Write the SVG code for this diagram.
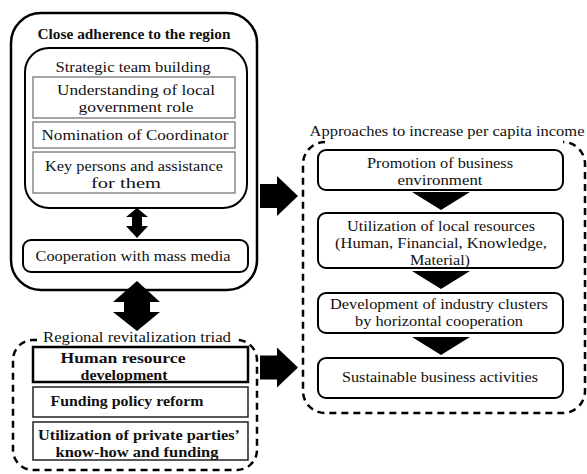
<svg xmlns="http://www.w3.org/2000/svg" width="587" height="474" viewBox="0 0 587 474" font-family="Liberation Serif, DejaVu Serif, serif">
  <style>
    text { font-size: 15px; fill: #111; text-anchor: middle; }
    .b { font-weight: bold; }
    .frame { fill: none; stroke: #000; stroke-width: 2.5; }
    .box { fill: #fff; stroke: #000; stroke-width: 2; }
    .sub { fill: #fff; stroke: #888; stroke-width: 1.5; }
    .tri { fill: #fff; stroke: #222; stroke-width: 1.5; }
    .tri-strong { fill: #fff; stroke: #000; stroke-width: 2.5; }
    .dash { fill: none; stroke: #000; stroke-width: 2.5; stroke-dasharray: 7 5; }
    .arrow { fill: #000; stroke: none; }
  </style>
  <defs>
    <polygon id="right-arrow" points="260,184 277,184 277,176 298,196 277,216 277,208 260,208"/>
    <polygon id="down-arrow" points="412,0 470,0 441,18"/>
  </defs>
  <rect width="587" height="474" fill="#fff"/>

  <!-- Left column: regional adherence block -->
  <g id="close-adherence">
    <rect class="frame" x="11" y="13" width="246" height="277" rx="30"/>
    <text class="b" x="134" y="39" textLength="193" lengthAdjust="spacingAndGlyphs">Close adherence to the region</text>
  </g>
  <g id="strategic-team-building">
    <rect class="box" x="25" y="48" width="222" height="160" rx="24"/>
    <text x="133" y="72" textLength="155" lengthAdjust="spacingAndGlyphs">Strategic team building</text>
  </g>
  <g id="local-government-role">
    <rect class="sub" x="33" y="77" width="202" height="41"/>
    <text x="136" y="95" textLength="158" lengthAdjust="spacingAndGlyphs">Understanding of local</text>
    <text x="136" y="112" textLength="115" lengthAdjust="spacingAndGlyphs">government role</text>
  </g>
  <g id="coordinator">
    <rect class="sub" x="33" y="122" width="202" height="26"/>
    <text x="135" y="140" textLength="187" lengthAdjust="spacingAndGlyphs">Nomination of Coordinator</text>
  </g>
  <g id="key-persons">
    <rect class="sub" x="33" y="152" width="202" height="41"/>
    <text x="134" y="171" textLength="178" lengthAdjust="spacingAndGlyphs">Key persons and assistance</text>
    <text x="126" y="188" textLength="70" lengthAdjust="spacingAndGlyphs">for them</text>
  </g>
  <g id="mass-media">
    <rect class="box" x="23" y="240" width="225" height="32" rx="8"/>
    <text x="133" y="261" textLength="195" lengthAdjust="spacingAndGlyphs">Cooperation with mass media</text>
  </g>

  <!-- Left column: revitalization triad -->
  <g id="triad">
    <path class="dash" d="M37,340 H33 A20,20 0 0 0 13,360 V450 A20,20 0 0 0 33,470 H237 A20,20 0 0 0 257,450 V360 A20,20 0 0 0 237,340"/>
    <text x="137" y="342" textLength="188" lengthAdjust="spacingAndGlyphs">Regional revitalization triad</text>
  </g>
  <g id="human-resource">
    <rect class="tri-strong" x="33" y="347" width="215" height="35"/>
    <text class="b" x="123" y="363" textLength="125" lengthAdjust="spacingAndGlyphs">Human resource</text>
    <text class="b" x="124" y="380" textLength="87" lengthAdjust="spacingAndGlyphs">development</text>
  </g>
  <g id="funding-policy">
    <rect class="tri" x="33" y="387" width="215" height="30"/>
    <text class="b" x="127" y="406" textLength="153" lengthAdjust="spacingAndGlyphs">Funding policy reform</text>
  </g>
  <g id="private-parties">
    <rect class="tri" x="33" y="422" width="215" height="38"/>
    <text class="b" x="139" y="440" textLength="202" lengthAdjust="spacingAndGlyphs">Utilization of private parties’</text>
    <text class="b" x="137" y="457" textLength="163" lengthAdjust="spacingAndGlyphs">know-how and funding</text>
  </g>

  <!-- Right column: income approaches -->
  <g id="approaches">
    <path class="dash" d="M325,142 A22,22 0 0 0 303,164 V391 A22,22 0 0 0 325,413 H563 A22,22 0 0 0 585,391 V164 A22,22 0 0 0 563,142"/>
    <text x="447" y="136" textLength="275" lengthAdjust="spacingAndGlyphs">Approaches to increase per capita income</text>
  </g>
  <g id="business-environment">
    <rect class="box" x="318" y="150" width="245" height="40" rx="8"/>
    <text x="440" y="168" textLength="146" lengthAdjust="spacingAndGlyphs">Promotion of business</text>
    <text x="440" y="185" textLength="85" lengthAdjust="spacingAndGlyphs">environment</text>
  </g>
  <g id="local-resources">
    <rect class="box" x="318" y="213" width="245" height="55" rx="8"/>
    <text x="441" y="231" textLength="188" lengthAdjust="spacingAndGlyphs">Utilization of local resources</text>
    <text x="441" y="248" textLength="212" lengthAdjust="spacingAndGlyphs">(Human, Financial, Knowledge,</text>
    <text x="440" y="265" textLength="60" lengthAdjust="spacingAndGlyphs">Material)</text>
  </g>
  <g id="industry-clusters">
    <rect class="box" x="318" y="293" width="245" height="40" rx="8"/>
    <text x="439" y="309" textLength="218" lengthAdjust="spacingAndGlyphs">Development of industry clusters</text>
    <text x="439" y="326" textLength="168" lengthAdjust="spacingAndGlyphs">by horizontal cooperation</text>
  </g>
  <g id="sustainable-business">
    <rect class="box" x="318" y="358" width="245" height="40" rx="8"/>
    <text x="440" y="382" textLength="196" lengthAdjust="spacingAndGlyphs">Sustainable business activities</text>
  </g>

  <!-- Connectors -->
  <g id="connectors" class="arrow">
    <polygon points="137,208 148,217 142,217 142,226 148,226 137,238 126,226 132,226 132,217 126,217"/>
    <polygon points="137,281 160,302 150,302 150,312 160,312 137,331 113,312 124,312 124,302 113,302"/>
    <use href="#right-arrow"/>
    <use href="#right-arrow" transform="translate(0,171.5)"/>
    <use href="#down-arrow" transform="translate(0,192)"/>
    <use href="#down-arrow" transform="translate(0,271)"/>
    <use href="#down-arrow" transform="translate(0,337)"/>
  </g>
</svg>
